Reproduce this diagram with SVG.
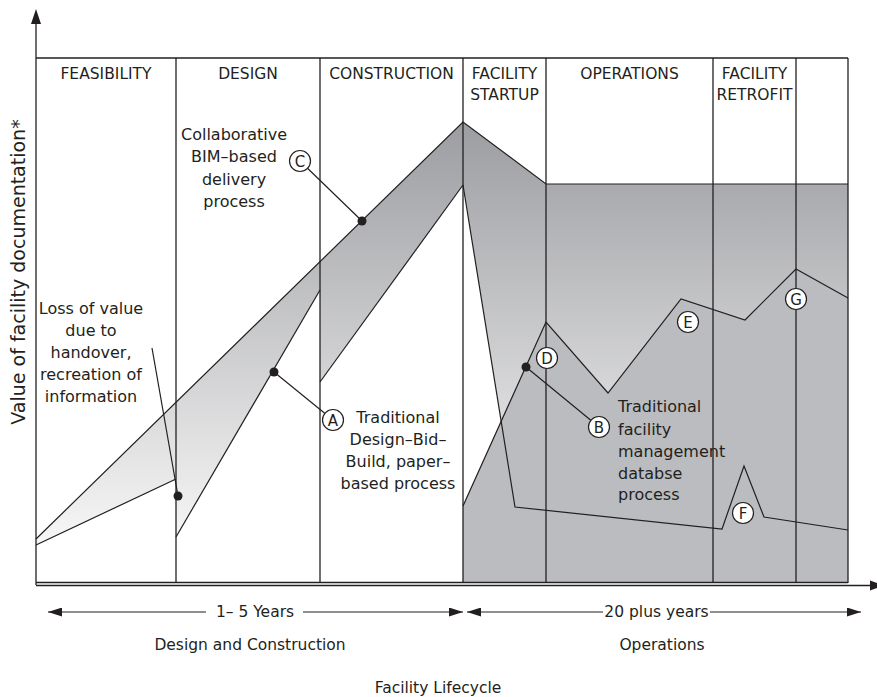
<svg xmlns="http://www.w3.org/2000/svg" width="877" height="697" viewBox="0 0 877 697">
<defs>
<linearGradient id="grad" gradientUnits="userSpaceOnUse" x1="0" y1="122" x2="0" y2="545">
<stop offset="0" stop-color="#9c9da1"/>
<stop offset="1" stop-color="#f7f7f7"/>
</linearGradient>
<marker id="ah" viewBox="0 0 14 9" refX="14" refY="4.5" markerWidth="14" markerHeight="9" markerUnits="userSpaceOnUse" orient="auto-start-reverse">
<path d="M0,0 L14,4.5 L0,9 Z" fill="#231f20"/>
</marker>
</defs>
<style>
text{font-family:"DejaVu Sans",sans-serif;fill:#231f20}
.h{font-size:15.5px;text-anchor:middle}
.l{font-size:16px}
.m{text-anchor:middle}
.b{font-size:15.5px;text-anchor:middle}
.ln{stroke:#231f20;stroke-width:1.2;fill:none;stroke-linejoin:miter}
.col{stroke:#231f20;stroke-width:1.3;fill:none}
.dot{fill:#231f20}
.circ{fill:#fff;stroke:#231f20;stroke-width:1.2}
.ct{font-size:15px;text-anchor:middle}
.ax{stroke:#231f20;stroke-width:1.3;fill:none}
</style>
<rect width="877" height="697" fill="#fff"/>

<g id="fills">
<polygon id="trad-design-fill" points="36,539 320,261.6 320,290 176,537 176,479 36,545" fill="url(#grad)"/>
<polygon id="bim-construction-fill" points="320,261.6 463,122 463,185 320,382" fill="url(#grad)"/>
<polygon id="bim-ops-fill" points="463,122 546,184 848,184 848,530 764,517 744,466 722,529 515,507 463,185" fill="url(#grad)"/>
<polygon id="fm-ops-fill" points="463,506 546,322 608,393 681,299 745,320 796,269 848,298 848,583 463,583" fill="#bbbcbf"/>
</g>

<g id="grid">
<line class="col" x1="36" y1="58" x2="848" y2="58"/>
<line class="col" x1="176" y1="58" x2="176" y2="583"/>
<line class="col" x1="320" y1="58" x2="320" y2="583"/>
<line class="col" x1="463" y1="58" x2="463" y2="583"/>
<line class="col" x1="546" y1="58" x2="546" y2="583"/>
<line class="col" x1="713" y1="58" x2="713" y2="583"/>
<line class="col" x1="796" y1="58" x2="796" y2="583"/>
<line class="col" x1="848" y1="58" x2="848" y2="583"/>
<line class="col" x1="36" y1="582.5" x2="848" y2="582.5"/>
</g>

<g id="axes">
<line class="ax" x1="36" y1="585" x2="36" y2="22"/>
<polygon points="36,9 31,24 41,24" fill="#231f20"/>
<line class="ax" x1="36" y1="585.5" x2="872" y2="585.5" stroke-width="2"/>
<polygon points="884,585.5 870,580.5 870,590.5" fill="#231f20"/>
<text transform="translate(25,272) rotate(-90)" class="m" font-size="19">Value of facility documentation*</text>
</g>

<g id="curves">
<polyline class="ln" points="36,539 463,122 546,184 848,184"/>
<line class="ln" x1="36" y1="545" x2="176" y2="479"/>
<line class="ln" x1="176" y1="537" x2="320" y2="290"/>
<line class="ln" x1="320" y1="382" x2="463" y2="185"/>
<polyline class="ln" points="463,185 515,507 722,529 744,466 764,517 848,530"/>
<polyline class="ln" points="463,506 546,322 608,393 681,299 745,320 796,269 848,298"/>
</g>

<g id="headers">
<text class="h" x="106" y="79">FEASIBILITY</text>
<text class="h" x="248" y="79">DESIGN</text>
<text class="h" x="391.5" y="79">CONSTRUCTION</text>
<text class="h" x="504.5" y="79">FACILITY</text>
<text class="h" x="504.5" y="100">STARTUP</text>
<text class="h" x="629.5" y="79">OPERATIONS</text>
<text class="h" x="754.5" y="79">FACILITY</text>
<text class="h" x="754.5" y="100">RETROFIT</text>
</g>

<g id="connectors">
<line class="ln" x1="300" y1="161" x2="362" y2="221"/>
<line class="ln" x1="274" y1="372" x2="333" y2="420"/>
<line class="ln" x1="526" y1="367" x2="599" y2="427"/>
<line class="ln" x1="152" y1="348" x2="178" y2="496"/>
</g>

<g id="label-loss">
<text class="l m" x="91" y="314">Loss of value</text>
<text class="l m" x="91" y="336">due to</text>
<text class="l m" x="91" y="358">handover,</text>
<text class="l m" x="91" y="380">recreation of</text>
<text class="l m" x="91" y="402">information</text>
<circle class="dot" cx="178" cy="496" r="4.5"/>
</g>

<g id="node-C">
<text class="l m" x="234" y="139.5">Collaborative</text>
<text class="l m" x="234" y="162">BIM–based</text>
<text class="l m" x="234" y="185">delivery</text>
<text class="l m" x="234" y="207">process</text>
<circle class="dot" cx="362" cy="221" r="4.5"/>
<circle class="circ" cx="300" cy="161" r="10.5"/>
<text class="ct" x="300" y="166.5">C</text>
</g>

<g id="node-A">
<circle class="dot" cx="274" cy="372" r="4.5"/>
<circle class="circ" cx="333" cy="420" r="10.5"/>
<text class="ct" x="333" y="425.5">A</text>
<text class="l m" x="398" y="423">Traditional</text>
<text class="l m" x="398" y="445">Design–Bid–</text>
<text class="l m" x="398" y="467">Build, paper–</text>
<text class="l m" x="398" y="489">based process</text>
</g>

<g id="node-B">
<circle class="dot" cx="526" cy="367" r="4.5"/>
<circle class="circ" cx="599" cy="427" r="10.5"/>
<text class="ct" x="599" y="432.5">B</text>
<text class="l" x="618" y="412">Traditional</text>
<text class="l" x="618" y="435">facility</text>
<text class="l" x="618" y="457">management</text>
<text class="l" x="618" y="479">databse</text>
<text class="l" x="618" y="500">process</text>
</g>

<g id="node-D">
<circle class="circ" cx="547" cy="358" r="10.5"/>
<text class="ct" x="547" y="363.5">D</text>
</g>
<g id="node-E">
<circle class="circ" cx="688" cy="322" r="10.5"/>
<text class="ct" x="688" y="327.5">E</text>
</g>
<g id="node-F">
<circle class="circ" cx="743" cy="513" r="10.5"/>
<text class="ct" x="743" y="518.5">F</text>
</g>
<g id="node-G">
<circle class="circ" cx="796" cy="299" r="10.5"/>
<text class="ct" x="796" y="304.5">G</text>
</g>

<g id="timeline">
<line class="ln" x1="48" y1="612" x2="206" y2="612" marker-start="url(#ah)"/>
<line class="ln" x1="303" y1="612" x2="463" y2="612" marker-end="url(#ah)"/>
<text class="b" x="255" y="617">1– 5 Years</text>
<line class="ln" x1="467" y1="612" x2="603" y2="612" marker-start="url(#ah)"/>
<line class="ln" x1="710" y1="612" x2="861" y2="612" marker-end="url(#ah)"/>
<text class="b" x="656.5" y="617">20 plus years</text>
<text class="b" x="250" y="650">Design and Construction</text>
<text class="b" x="662" y="650">Operations</text>
<text class="b" x="438" y="693">Facility Lifecycle</text>
</g>
</svg>
